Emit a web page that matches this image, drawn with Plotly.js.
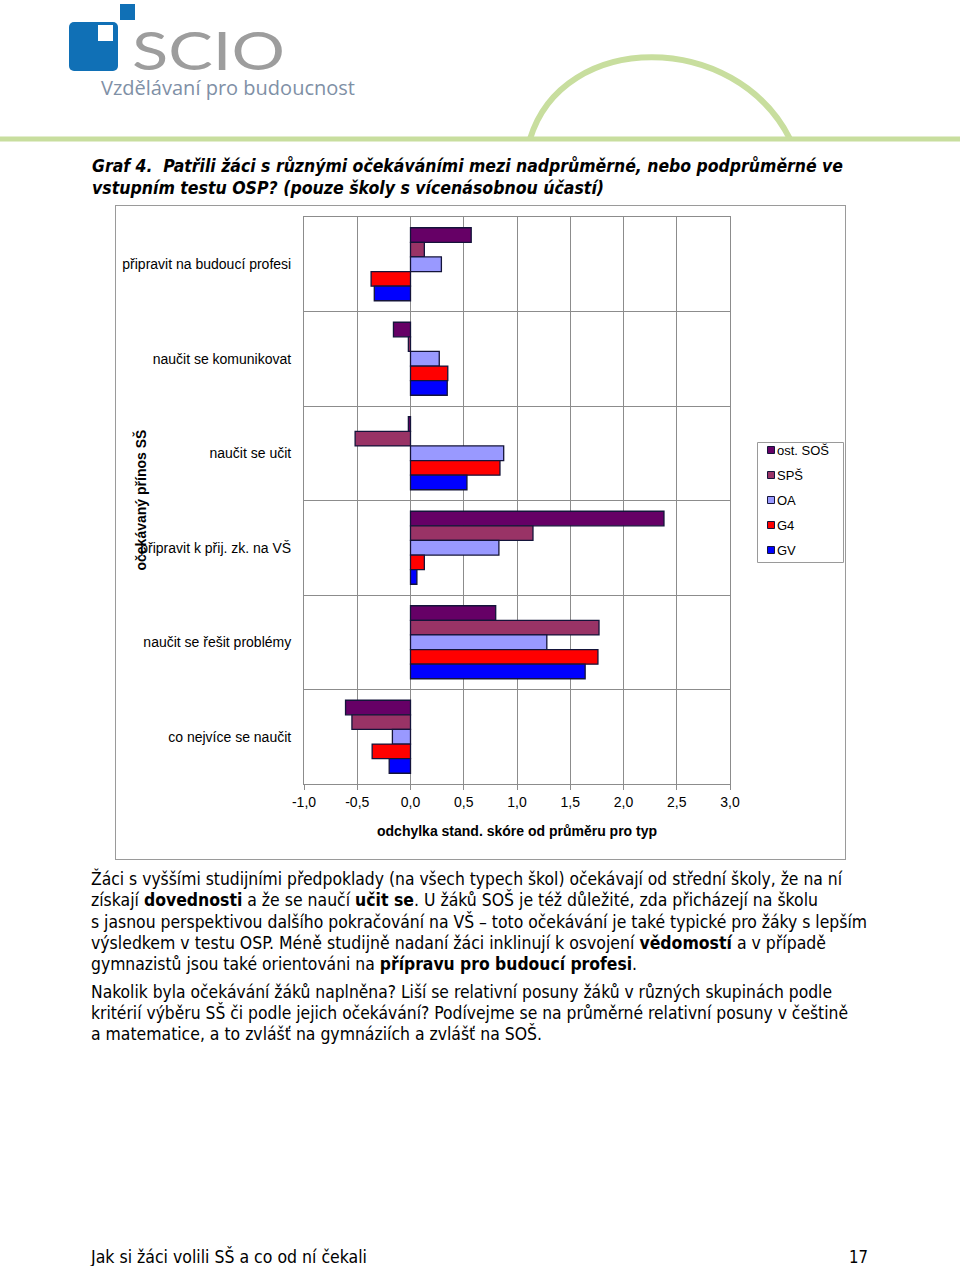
<!DOCTYPE html>
<html>
<head>
<meta charset="utf-8">
<script src="https://cdn.plot.ly/plotly-3.0.1.min.js"></script>
<style>
  html,body{margin:0;padding:0;background:#fff;}
  body{width:960px;height:1266px;position:relative;overflow:hidden;}
  .ln{position:absolute;white-space:nowrap;display:inline-block;transform-origin:left center;line-height:1;}
  .ttl{font-family:"DejaVu Sans Condensed","DejaVu Sans",sans-serif;font-weight:bold;font-style:italic;font-size:18px;color:#000;}
  .body{font-family:"DejaVu Sans Condensed","DejaVu Sans",sans-serif;font-size:17px;color:#000;}
  #frame{position:absolute;left:115px;top:205px;width:731px;height:655px;border:1px solid #9a9a9a;box-sizing:border-box;}
  #chart{width:729px;height:653px;}
</style>
</head>
<body>
<svg style="position:absolute;left:0;top:0" width="960" height="145">
  <rect x="69" y="22" width="49" height="49" rx="5" fill="#1070b6"/>
  <rect x="98" y="25" width="15" height="16" fill="#ffffff"/>
  <rect x="120" y="4" width="15" height="16" fill="#1070b6"/>
  <text x="132" y="70" font-family="Lato, 'Open Sans', sans-serif" font-weight="400" font-size="52" fill="#9d9d9d" textLength="153" lengthAdjust="spacingAndGlyphs">SCIO</text>
  <text x="101" y="95" font-family="'Open Sans', 'Noto Sans', sans-serif" font-size="20" fill="#7f90a6" textLength="254" lengthAdjust="spacingAndGlyphs">Vzdělávaní pro budoucnost</text>
  <line x1="0" y1="139" x2="960" y2="139" stroke="#c8de9e" stroke-width="5"/>
  <path d="M530,139 C563,30 735,30 790,139" fill="none" stroke="#c8de9e" stroke-width="6"/>
</svg>

<div class="ln ttl" data-x="92" data-y="166" data-w="751">Graf 4.&nbsp; Patřili žáci s různými očekáváními mezi nadprůměrné, nebo podprůměrné ve</div>
<div class="ln ttl" data-x="92" data-y="188" data-w="512">vstupním testu OSP? (pouze školy s vícenásobnou účastí)</div>

<div id="frame"><div id="chart"></div></div>

<div class="ln body" data-x="91" data-y="879" data-w="751">Žáci s vyššími studijními předpoklady (na všech typech škol) očekávají od střední školy, že na ní</div>
<div class="ln body" data-x="91" data-y="900" data-w="727">získají <b>dovednosti</b> a že se naučí <b>učit se</b>. U žáků SOŠ je též důležité, zda přicházejí na školu</div>
<div class="ln body" data-x="91" data-y="922" data-w="776">s jasnou perspektivou dalšího pokračování na VŠ – toto očekávání je také typické pro žáky s lepším</div>
<div class="ln body" data-x="91" data-y="943" data-w="735">výsledkem v testu OSP. Méně studijně nadaní žáci inklinují k osvojení <b>vědomostí</b> a v případě</div>
<div class="ln body" data-x="91" data-y="964" data-w="546">gymnazistů jsou také orientováni na <b>přípravu pro budoucí profesi</b>.</div>
<div class="ln body" data-x="91" data-y="992" data-w="741">Nakolik byla očekávání žáků naplněna? Liší se relativní posuny žáků v různých skupinách podle</div>
<div class="ln body" data-x="91" data-y="1013" data-w="757">kritérií výběru SŠ či podle jejich očekávání? Podívejme se na průměrné relativní posuny v češtině</div>
<div class="ln body" data-x="91" data-y="1034" data-w="451">a matematice, a to zvlášť na gymnáziích a zvlášť na SOŠ.</div>
<div class="ln body" data-x="91" data-y="1257" data-w="276">Jak si žáci volili SŠ a co od ní čekali</div>
<div class="ln body" data-x="849" data-y="1257" data-w="19">17</div>

<script>
const categories = ["připravit na budoucí profesi","naučit se komunikovat","naučit se učit","připravit k přij. zk. na VŠ","naučit se řešit problémy","co nejvíce se naučit"];
const seriesNames = ["ost. SOŠ","SPŠ","OA","G4","GV"];
const ostSOS = [0.57, -0.16, -0.02, 2.38, 0.80, -0.61];
const SPS    = [0.13, -0.02, -0.52, 1.15, 1.77, -0.55];
const OA     = [0.29, 0.27, 0.875, 0.83, 1.28, -0.17];
const G4     = [-0.37, 0.35, 0.84, 0.13, 1.76, -0.36];
const GV     = [-0.34, 0.345, 0.53, 0.06, 1.64, -0.20];
const seriesValues = [ostSOS, SPS, OA, G4, GV];
const seriesColors = ["#660066","#993366","#9999ff","#ff0000","#0000ff"];
const xTickVals = [-1,-0.5,0,0.5,1,1.5,2,2.5,3];
const xTickText = ["-1,0","-0,5","0,0","0,5","1,0","1,5","2,0","2,5","3,0"];
const yTitle = "očekávaný přínos SŠ";
const xTitle = "odchylka stand. skóre od průměru pro typ";

const outline = '#14143a';
const traces = seriesNames.map((n,i)=>({
  type:'bar', orientation:'h', name:n, y:categories, x:seriesValues[i],
  marker:{color:seriesColors[i], line:{color:outline, width:1.3}},
  hoverinfo:'none', showlegend:false
}));

// page pixel -> paper coords of the plot area (plot spans x 304..730, y 217..784 on the page)
const PX0=304, PW=426, PY1=784, PH=567;
const px = x => (x-PX0)/PW;
const py = y => (PY1-y)/PH;

const grid = '#8c8c8c';
const shapes = [
  {type:'rect', xref:'paper', yref:'paper', x0:px(757.5), x1:px(843.5), y0:py(442.5), y1:py(562.5),
   line:{color:'#9a9a9a', width:1}, fillcolor:'#fff', layer:'above'}
];
const annotations = [
  {text:'<b>'+yTitle+'</b>', xref:'paper', yref:'paper', x:px(140), y:0.5, textangle:-90,
   showarrow:false, xanchor:'center', yanchor:'middle', font:{size:14}},
  {text:'<b>'+xTitle+'</b>', xref:'paper', yref:'paper', x:px(517), y:py(831),
   showarrow:false, xanchor:'center', yanchor:'middle', font:{size:14}}
];
seriesNames.forEach((n,i)=>{
  const cy = 450 + i*25;
  shapes.push({type:'rect', xref:'paper', yref:'paper', x0:px(767.5), x1:px(774.5), y0:py(cy+3.5), y1:py(cy-3.5),
               line:{color:outline, width:1}, fillcolor:seriesColors[i], layer:'above'});
  annotations.push({text:n, xref:'paper', yref:'paper', x:px(776), y:py(cy+0.5), xanchor:'left', yanchor:'middle',
                    showarrow:false, font:{size:13}, borderpad:0});
});

const layout = {
  width:729, height:653,
  margin:{l:188, r:115, t:11, b:75, autoexpand:false},
  paper_bgcolor:'#fff', plot_bgcolor:'#fff',
  font:{family:'"Liberation Sans", Arial, sans-serif', size:14, color:'#000'},
  barmode:'group', bargap:0.227, bargroupgap:0,
  showlegend:false,
  xaxis:{range:[-1,3], tickvals:xTickVals, ticktext:xTickText, showgrid:true, gridcolor:grid, gridwidth:1,
         zeroline:true, zerolinecolor:grid, zerolinewidth:1,
         showline:true, linecolor:grid, linewidth:1, mirror:true,
         ticks:'outside', ticklen:5, tickcolor:grid, tickfont:{size:14}, fixedrange:true},
  yaxis:{type:'category', autorange:'reversed', tickson:'boundaries', showgrid:true, gridcolor:grid, gridwidth:1,
         showline:true, linecolor:grid, linewidth:1, mirror:true, ticks:'', ticklabelstandoff:9,
         tickfont:{size:14}, fixedrange:true},
  shapes:shapes,
  annotations:annotations
};
Plotly.newPlot('chart', traces, layout, {displayModeBar:false, staticPlot:true});

document.querySelectorAll('.ln').forEach(el=>{
  const x=+el.dataset.x, y=+el.dataset.y, w=+el.dataset.w;
  el.style.left=x+'px';
  const r=el.getBoundingClientRect();
  el.style.top=(y - r.height/2)+'px';
  el.style.transform='scaleX('+(w/r.width)+')';
});
</script>
</body>
</html>
